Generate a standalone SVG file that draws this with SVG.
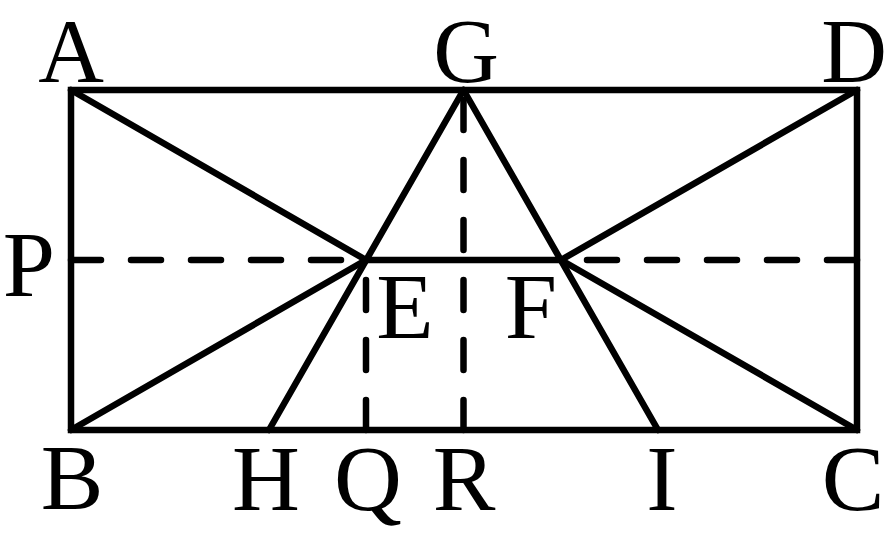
<svg xmlns="http://www.w3.org/2000/svg" width="891" height="538" viewBox="0 0 891 538">
<style>
.s{stroke:#000;stroke-width:6.5;fill:none;stroke-linecap:round}
.d{stroke:#000;stroke-width:6.5;fill:none;stroke-linecap:round;stroke-dasharray:30 30}
text{font-family:"Liberation Serif","Times New Roman",serif;font-size:94px;fill:#000;text-anchor:middle}
.t{font-size:91px}
</style>
<rect width="891" height="538" fill="#fff"/>
<g id="connectors">
<rect class="s" x="71" y="90" width="786" height="340" style="stroke-linejoin:miter"/>
<line class="s" x1="71" y1="90" x2="366" y2="260"/>
<line class="s" x1="71" y1="430" x2="366" y2="260"/>
<line class="s" x1="857" y1="90" x2="561" y2="260"/>
<line class="s" x1="857" y1="430" x2="561" y2="260"/>
<line class="s" x1="463.5" y1="90" x2="269" y2="430"/>
<line class="s" x1="463.5" y1="90" x2="658" y2="430"/>
<line class="s" x1="366" y1="260" x2="561" y2="260"/>
<line class="d" x1="71" y1="260" x2="366" y2="260"/>
<line class="d" x1="857" y1="260" x2="561" y2="260"/>
<line class="d" x1="463.5" y1="430" x2="463.5" y2="90"/>
<line class="d" x1="366" y1="430" x2="366" y2="260"/>
</g>
<g id="A"><text class="t" x="71" y="82">A</text></g>
<g id="G"><text class="t" x="466" y="82">G</text></g>
<g id="D"><text class="t" x="854" y="82">D</text></g>
<g id="P"><text x="29" y="296">P</text></g>
<g id="E"><text x="405" y="338">E</text></g>
<g id="F"><text x="531" y="338">F</text></g>
<g id="B"><text x="72" y="509">B</text></g>
<g id="H"><text x="266" y="510">H</text></g>
<g id="Q"><text x="368" y="510">Q</text></g>
<g id="R"><text x="464" y="510">R</text></g>
<g id="I"><text x="662" y="510">I</text></g>
<g id="C"><text x="853" y="510">C</text></g>
</svg>
